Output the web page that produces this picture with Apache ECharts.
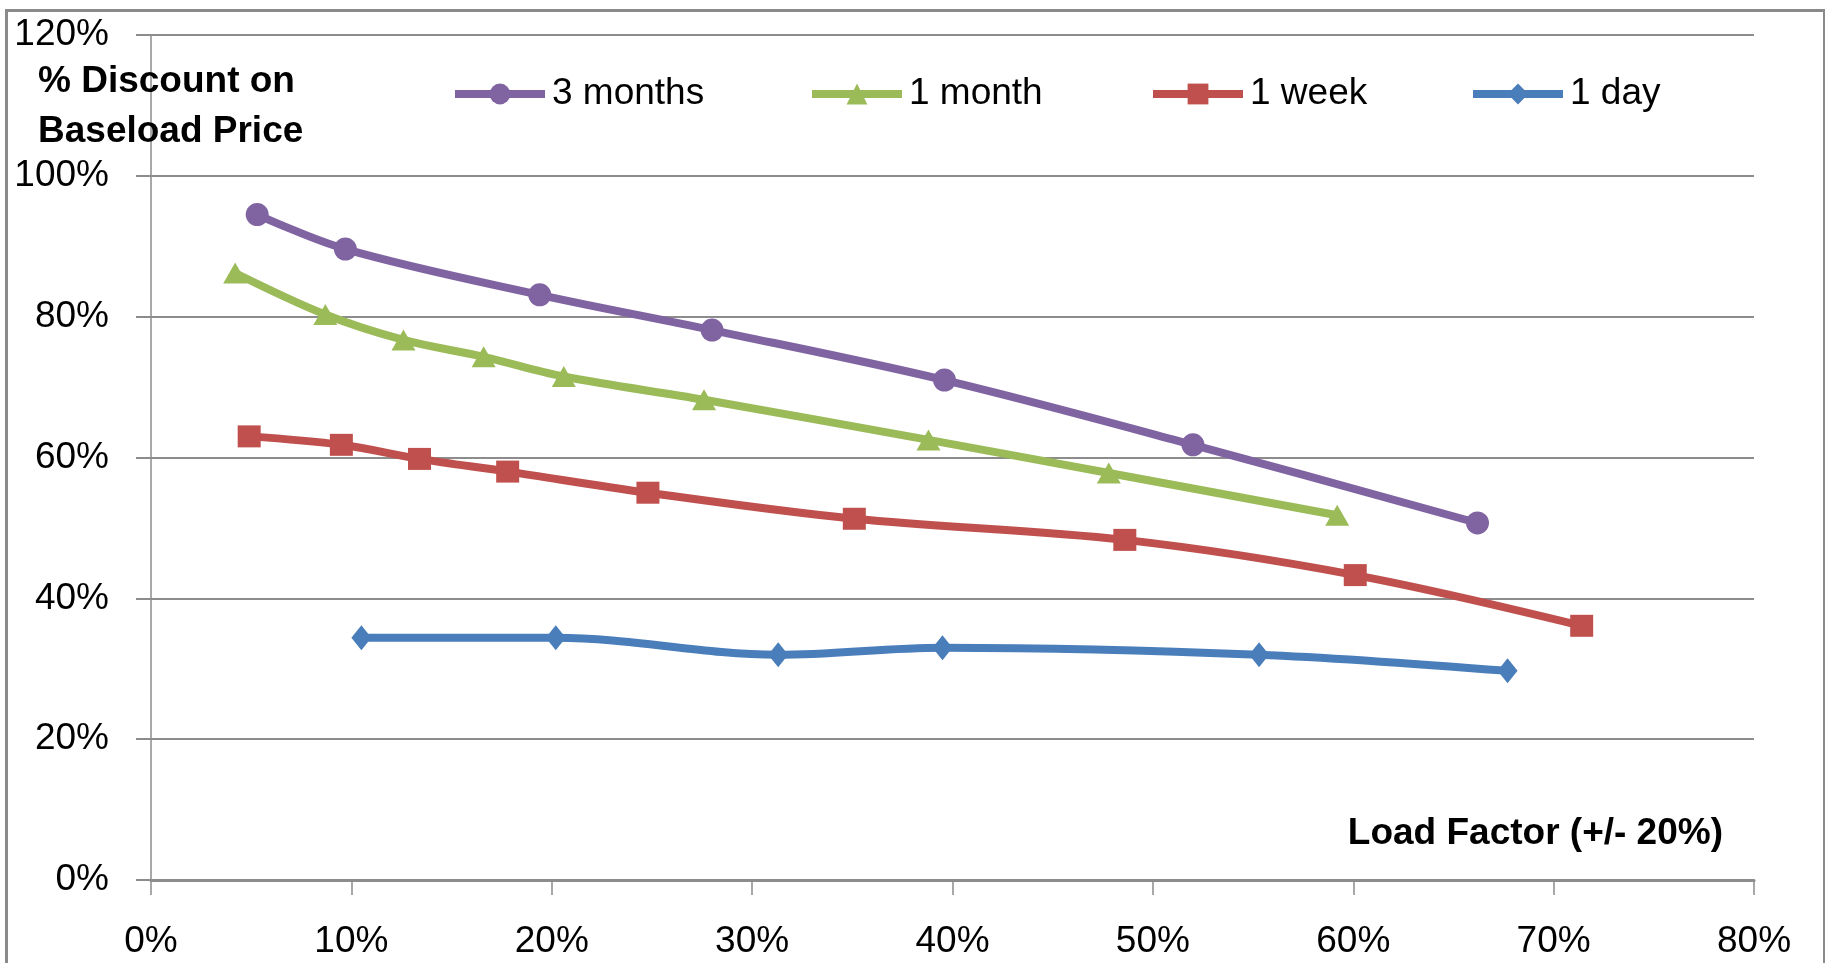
<!DOCTYPE html>
<html>
<head>
<meta charset="utf-8">
<title>Discount on Baseload Price vs Load Factor</title>
<script src="https://cdn.jsdelivr.net/npm/echarts@6/dist/echarts.min.js"></script>
<style>
  html, body { margin: 0; padding: 0; background: #ffffff; }
  #chart { width: 1825px; height: 963px; }
</style>
</head>
<body>
<div id="chart"></div>
<script>
// Load factor (%) and discount (%) for each contract length
const seriesNames = ['3 months', '1 month', '1 week', '1 day'];

const threeMonthsX = [5.3, 9.7, 19.4, 28.0, 39.6, 52.0, 66.2];
const threeMonthsY = [94.5, 89.6, 83.1, 78.1, 71.0, 61.8, 50.7];

const oneMonthX = [4.2, 8.7, 12.6, 16.6, 20.6, 27.6, 38.8, 47.8, 59.2];
const oneMonthY = [86.2, 80.3, 76.7, 74.3, 71.5, 68.2, 62.5, 57.8, 51.8];

const oneWeekX = [4.9, 9.5, 13.4, 17.8, 24.8, 35.1, 48.6, 60.1, 71.4];
const oneWeekY = [63.0, 61.8, 59.8, 58.0, 55.0, 51.3, 48.3, 43.3, 36.1];

const oneDayX = [10.5, 20.2, 31.3, 39.5, 55.3, 67.7];
const oneDayY = [34.4, 34.4, 32.0, 33.0, 32.0, 29.7];

const xTicks = [0, 10, 20, 30, 40, 50, 60, 70, 80];
const yTicks = [0, 20, 40, 60, 80, 100, 120];

const colors = ['#8064A2', '#9BBB59', '#C0504D', '#4A7EBB'];
const symbols = ['circle', 'triangle', 'rect', 'diamond'];
const symbolSizes = [23, [24, 21], [23, 22], [20, 25]];

const FONT = "'Liberation Sans', Arial, sans-serif";
const GRID_GRAY = '#8c8c8c';

function pairs(xs, ys) {
  return xs.map((x, i) => [x, ys[i]]);
}

const seriesData = [
  pairs(threeMonthsX, threeMonthsY),
  pairs(oneMonthX, oneMonthY),
  pairs(oneWeekX, oneWeekY),
  pairs(oneDayX, oneDayY)
];

// legend entries placed one by one along the top of the plot
const legendLeft = [446, 803, 1144, 1464];

const chart = echarts.init(document.getElementById('chart'), null, { renderer: 'canvas' });

chart.setOption({
  animation: false,
  backgroundColor: '#ffffff',
  grid: { left: 151, right: 71, top: 35, bottom: 83, containLabel: false },
  legend: seriesNames.map((name, i) => ({
    data: [name],
    left: legendLeft[i],
    top: 68,
    itemWidth: 90,
    itemHeight: 26,
    itemGap: 0,
    selectedMode: false,
    lineStyle: { width: 8 },
    textStyle: { fontFamily: FONT, fontSize: 37, color: '#000000', lineHeight: 42, padding: [0, 0, 0, 2] }
  })),
  xAxis: {
    type: 'value',
    min: xTicks[0],
    max: xTicks[xTicks.length - 1],
    interval: 10,
    axisLine: { show: true, onZero: false, lineStyle: { color: GRID_GRAY, width: 3 } },
    axisTick: { show: true, length: 15, lineStyle: { color: GRID_GRAY, width: 1.5 } },
    splitLine: { show: false },
    axisLabel: {
      formatter: '{value}%',
      fontFamily: FONT,
      fontSize: 37,
      color: '#000000',
      margin: 43
    }
  },
  yAxis: {
    type: 'value',
    min: yTicks[0],
    max: yTicks[yTicks.length - 1],
    interval: 20,
    axisLine: { show: true, lineStyle: { color: GRID_GRAY, width: 1.5 } },
    axisTick: { show: true, length: 15, lineStyle: { color: GRID_GRAY, width: 2 } },
    splitLine: { show: true, lineStyle: { color: GRID_GRAY, width: 2 } },
    axisLabel: {
      formatter: '{value}%',
      fontFamily: FONT,
      fontSize: 37,
      color: '#000000',
      margin: 42
    }
  },
  series: seriesNames.map((name, i) => ({
    name: name,
    type: 'line',
    data: seriesData[i],
    smooth: 0.35,
    color: colors[i],
    symbol: symbols[i],
    symbolSize: symbolSizes[i],
    showAllSymbol: true,
    lineStyle: { color: colors[i], width: 8 },
    itemStyle: { color: colors[i] },
    z: 10 - i
  })),
  graphic: [
    {
      type: 'rect',
      left: 4,
      top: 8,
      z: 100,
      silent: true,
      shape: { width: 1818, height: 1000 },
      style: { fill: null, stroke: '#8a8a8a', lineWidth: 3 }
    },
    {
      type: 'text',
      left: 38,
      top: 57,
      z: 100,
      style: {
        text: '% Discount on\nBaseload Price',
        font: "bold 37px 'Liberation Sans', Arial, sans-serif",
        lineHeight: 50,
        fill: '#000000'
      }
    },
    {
      type: 'text',
      right: 102,
      top: 815,
      z: 100,
      style: {
        text: 'Load Factor (+/- 20%)',
        font: "bold 37px 'Liberation Sans', Arial, sans-serif",
        fill: '#000000'
      }
    }
  ]
});
</script>
</body>
</html>
